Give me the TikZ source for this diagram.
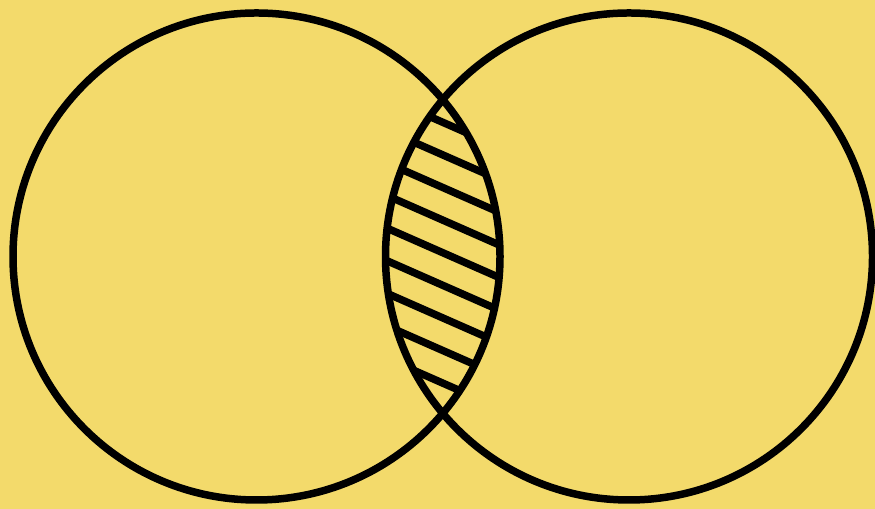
\documentclass[tikz,border=0pt]{standalone}
\usepackage{xcolor}
\usepackage{tikz}
\definecolor{vennyellow}{HTML}{F3DA6B}

\begin{document}
\begin{tikzpicture}[
  x=0.02cm, y=0.02cm,
  setline/.style={draw=black, line width=0.15cm},
  hatchline/.style={draw=black, line width=0.15cm},
]

% Background
\fill[vennyellow] (0,0) rectangle (875,509);
\useasboundingbox (0,0) rectangle (875,509);

% Centres
\coordinate (ca) at (256.5,252.5);
\coordinate (cb) at (629,252.5);

% Hatching of the overlap
\begin{scope}
  \clip (ca) circle[radius=243.5];
  \clip (cb) circle[radius=243.5];
  \foreach \i in {0,...,8}{
    \pgfmathsetmacro{\yy}{387-32.6*\i}
    \draw[hatchline] (370,\yy+31.7) -- (520,\yy-34.3);
  }
\end{scope}

% Sets
\draw[setline] (ca) circle[radius=243.5];
\draw[setline] (cb) circle[radius=243.5];
\end{tikzpicture}
\end{document}
